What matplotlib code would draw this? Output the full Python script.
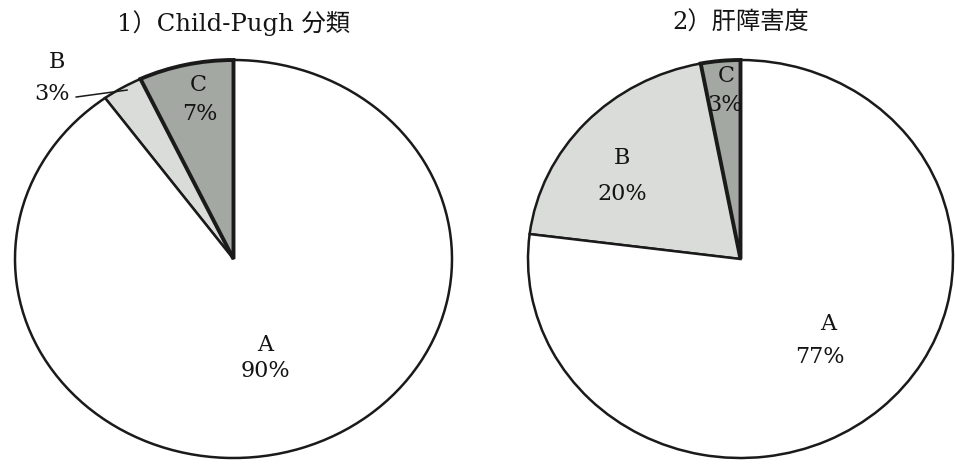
import matplotlib.pyplot as plt

plt.rcParams['font.family'] = ['DejaVu Serif', 'Noto Sans CJK JP']

# wedge order runs counter-clockwise from 12 o'clock: C, B, A
labels = ['C', 'B', 'A']
child_pugh = [7, 3, 90]
liver_damage = [3, 20, 77]
titles = ['1）Child-Pugh 分類', '2）肝障害度']

colors = ['#a3a8a3', '#d9dcd9', '#ffffff']
edge = '#1a1a1a'

W, H = 955, 467
fig = plt.figure(figsize=(W / 100, H / 100), dpi=100)


def pie_axes(left, right, top, bottom):
    ax = fig.add_axes([left / W, (H - bottom) / H, (right - left) / W, (bottom - top) / H])
    return ax


def draw_pie(ax, values):
    wedges, _ = ax.pie(values, colors=colors, startangle=90, counterclock=True,
                       wedgeprops=dict(edgecolor=edge, linewidth=1.8))
    wedges[0].set_linewidth(2.8)
    for w in wedges:
        w.set_clip_on(False)
    # C wedge edge drawn on top of neighbours
    wedges[0].set_zorder(3)
    ax.set_aspect('auto')
    ax.set_xlim(-1, 1)
    ax.set_ylim(-1, 1)
    ax.axis('off')
    return wedges


lab_kw = dict(fontsize=16, ha='center', va='center', color='#141414')

# 1) Child-Pugh
ax1 = pie_axes(15, 452, 60, 458)
draw_pie(ax1, child_pugh)
ax1.text(-0.808, 0.99, labels[1], **lab_kw)
ax1.text(-0.830, 0.829, f'{child_pugh[1]}%', **lab_kw)
ax1.plot([-0.72, -0.487], [0.814, 0.849], color=edge, lw=1.1, clip_on=False, zorder=4)
ax1.text(-0.162, 0.874, labels[0], **lab_kw)
ax1.text(-0.153, 0.729, f'{child_pugh[0]}%', **lab_kw)
ax1.text(0.144, -0.432, labels[2], **lab_kw)
ax1.text(0.144, -0.563, f'{child_pugh[2]}%', **lab_kw)

# 2) liver damage grade
ax2 = pie_axes(528, 953, 60, 458)
draw_pie(ax2, liver_damage)
ax2.text(-0.068, 0.92, labels[0], zorder=5, **lab_kw)
ax2.text(-0.073, 0.774, f'{liver_damage[0]}%', zorder=5, **lab_kw)
ax2.text(-0.558, 0.508, labels[1], **lab_kw)
ax2.text(-0.558, 0.327, f'{liver_damage[1]}%', **lab_kw)
ax2.text(0.412, -0.327, labels[2], **lab_kw)
ax2.text(0.374, -0.492, f'{liver_damage[2]}%', **lab_kw)

fig.text(233 / W, 1 - 23 / H, titles[0], fontsize=17.5, ha='center', va='center', color='#141414')
fig.text(741 / W, 1 - 23 / H, titles[1], fontsize=17.5, ha='center', va='center', color='#141414')

fig.savefig('out.png', dpi=100, facecolor='white')
